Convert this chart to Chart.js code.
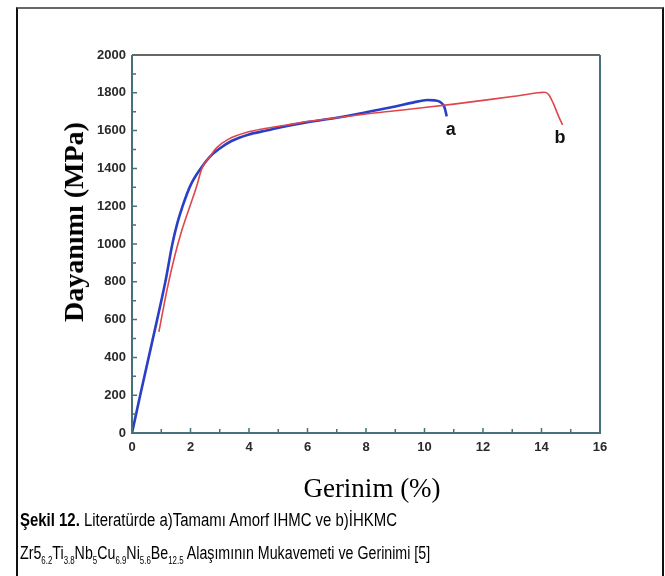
<!DOCTYPE html>
<html>
<head>
<meta charset="utf-8">
<title>Dayanım - Gerinim</title>
<script src="https://cdn.jsdelivr.net/npm/chart.js@4.4.0/dist/chart.umd.min.js"></script>
<style>
  html, body { margin: 0; padding: 0; background: #fff; }
  body { width: 665px; height: 576px; position: relative; overflow: hidden; }
  #frame {
    position: absolute; left: 16px; top: 7px; width: 648px; height: 620px;
    border-left: 2px solid #111; border-right: 2px solid #111; border-top: 2px solid #666;
    box-sizing: border-box;
  }
  #chartBox { position: absolute; left: 0; top: 0; width: 665px; height: 576px; }
  .ytitle {
    position: absolute; left: 74px; top: 222px; transform: translate(-50%, -50%) rotate(-90deg);
    font: bold 28px "Liberation Serif", "Times New Roman", serif; white-space: nowrap; color: #000;
  }
  .xtitle {
    position: absolute; left: 372px; top: 488px; transform: translate(-50%, -50%);
    font: 27px "Liberation Serif", "Times New Roman", serif; white-space: nowrap; color: #000;
  }
  .caption {
    position: absolute; left: 20px; top: 504px;
    font: 18px "Liberation Sans", Arial, sans-serif; line-height: 33px; color: #000;
    white-space: nowrap;
  }
  .caption span { display: block; transform-origin: 0 50%; }
  .caption .l1 { transform: scaleX(0.83); }
  .caption .l2 { transform: scaleX(0.79); }
  .caption sub { font-size: 10px; vertical-align: -5px; line-height: 0; }
</style>
</head>
<body>
<div id="frame"></div>
<div id="chartBox"><canvas id="stressChart" width="665" height="576"></canvas></div>
<div class="ytitle">Dayanımı (MPa)</div>
<div class="xtitle">Gerinim (%)</div>
<div class="caption">
  <span class="l1"><b>Şekil 12.</b> Literatürde a)Tamamı Amorf IHMC ve b)İHKMC</span>
  <span class="l2">Zr5<sub>6.2</sub>Ti<sub>3.8</sub>Nb<sub>5</sub>Cu<sub>6.9</sub>Ni<sub>5.6</sub>Be<sub>12.5</sub> Alaşımının Mukavemeti ve Gerinimi [5]</span>
</div>

<script>
// Curve a (blue) - tamamen amorf
const strainA = [0, 0.28, 0.86, 1.14, 1.38, 1.55, 1.73, 2.0, 2.35, 2.65, 2.95, 3.4, 4.0, 4.6, 5.3, 6.0, 7.0, 8.0, 9.0, 9.6, 10.1, 10.35, 10.55, 10.68, 10.76];
const stressA = [0, 200, 600, 800, 1000, 1110, 1200, 1310, 1400, 1460, 1500, 1545, 1580, 1600, 1625, 1645, 1668, 1697, 1728, 1748, 1762, 1760, 1750, 1725, 1675];

// Curve b (red) - kompozit
const strainB = [0.92, 1.2, 1.45, 1.7, 1.98, 2.2, 2.39, 2.65, 2.9, 3.3, 3.9, 4.5, 5.3, 6.0, 7.0, 8.0, 9.0, 10.0, 11.0, 12.0, 13.0, 13.9, 14.1, 14.25, 14.4, 14.6, 14.72];
const stressB = [535, 760, 930, 1070, 1200, 1300, 1400, 1460, 1510, 1555, 1590, 1610, 1630, 1648, 1668, 1688, 1705, 1722, 1740, 1760, 1780, 1800, 1803, 1790, 1745, 1670, 1630];

// Axis ticks
const xTicks = [0, 2, 4, 6, 8, 10, 12, 14, 16];
const yTicks = [0, 200, 400, 600, 800, 1000, 1200, 1400, 1600, 1800, 2000];

const axisColor = '#46707a';

function toPoints(xs, ys) {
    return xs.map((v, i) => ({ x: v, y: ys[i] }));
}

// Frame, inward ticks and the a / b labels
const frameTicks = {
    id: 'frameTicks',
    afterDatasetsDraw(chart) {
        const { ctx, chartArea: area, scales } = chart;
        const x = scales.x, y = scales.y;
        ctx.save();
        ctx.strokeStyle = axisColor;
        ctx.lineWidth = 1.5;
        ctx.beginPath();
        for (let v = xTicks[0]; v <= xTicks[xTicks.length - 1]; v++) {
            const px = x.getPixelForValue(v);
            ctx.moveTo(px, area.bottom);
            ctx.lineTo(px, area.bottom - (xTicks.includes(v) ? 5 : 4));
        }
        for (let v = yTicks[0]; v <= yTicks[yTicks.length - 1]; v += 100) {
            const py = y.getPixelForValue(v);
            ctx.moveTo(area.left, py);
            ctx.lineTo(area.left + (yTicks.includes(v) ? 5 : 4), py);
        }
        ctx.stroke();

        ctx.lineWidth = 2;
        ctx.strokeStyle = '#666';
        ctx.beginPath();
        ctx.moveTo(area.left, area.top);
        ctx.lineTo(area.right, area.top);
        ctx.stroke();
        ctx.strokeStyle = axisColor;
        ctx.beginPath();
        ctx.moveTo(area.right, area.top);
        ctx.lineTo(area.right, area.bottom);
        ctx.lineTo(area.left, area.bottom);
        ctx.lineTo(area.left, area.top);
        ctx.stroke();

        ctx.fillStyle = '#111';
        ctx.font = 'bold 18px "Liberation Sans", Arial, sans-serif';
        ctx.textAlign = 'center';
        ctx.textBaseline = 'middle';
        ctx.fillText('a', x.getPixelForValue(10.9), y.getPixelForValue(1603));
        ctx.fillText('b', x.getPixelForValue(14.63), y.getPixelForValue(1561));
        ctx.restore();
    }
};

const tickFont = { family: '"Liberation Sans", Arial, sans-serif', size: 13, weight: 'bold' };

const ctx = document.getElementById('stressChart');
new Chart(ctx, {
    type: 'scatter',
    data: {
        datasets: [
            {
                label: 'b',
                data: toPoints(strainB, stressB),
                showLine: true,
                borderColor: '#e0454a',
                borderWidth: 1.6,
                pointRadius: 0,
                cubicInterpolationMode: 'monotone'
            },
            {
                label: 'a',
                data: toPoints(strainA, stressA),
                showLine: true,
                borderColor: '#2b3fc4',
                borderWidth: 2.6,
                pointRadius: 0,
                cubicInterpolationMode: 'monotone'
            }
        ]
    },
    options: {
        responsive: false,
        animation: false,
        layout: { padding: { left: 60, top: 55, right: 65, bottom: 113 } },
        plugins: { legend: { display: false }, tooltip: { enabled: false } },
        scales: {
            x: {
                type: 'linear',
                min: 0, max: 16,
                afterFit: s => { s.height = 30; },
                afterBuildTicks: s => { s.ticks = xTicks.map(v => ({ value: v })); },
                grid: { display: false, drawTicks: false },
                border: { display: false },
                ticks: { padding: 7, color: '#2a2a2a', font: tickFont, callback: v => String(v) }
            },
            y: {
                type: 'linear',
                min: 0, max: 2000,
                afterFit: s => { s.width = 72; },
                afterBuildTicks: s => { s.ticks = yTicks.map(v => ({ value: v })); },
                grid: { display: false, drawTicks: false },
                border: { display: false },
                ticks: { padding: 6, color: '#2a2a2a', font: tickFont, callback: v => String(v) }
            }
        }
    },
    plugins: [frameTicks]
});
</script>
</body>
</html>
